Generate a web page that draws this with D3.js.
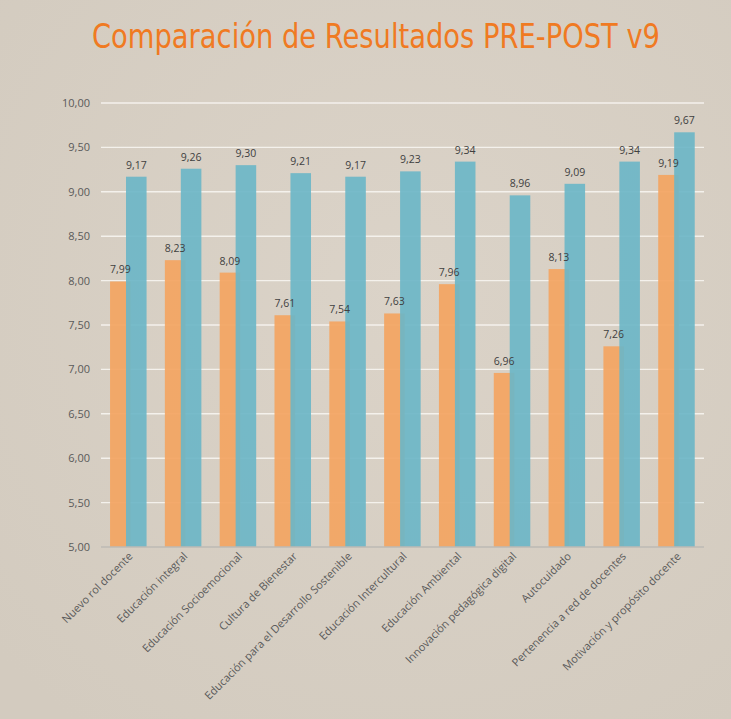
<!DOCTYPE html>
<html>
<head>
<meta charset="utf-8">
<script src="https://cdn.jsdelivr.net/npm/d3@7"></script>
<style>
  html, body { margin: 0; padding: 0; background: #d7cfc4; }
  svg { display: block; }
  .title { font-family: "Liberation Sans Narrow", "DejaVu Sans Condensed", sans-serif; fill: #f07a22; }
  .tick text, .val, .xlab { font-family: "Open Sans", sans-serif; }
</style>
</head>
<body>
<svg id="chart"></svg>
<script>
// chart data
var categories = ["Nuevo rol docente", "Educación integral", "Educación Socioemocional",
	"Cultura de Bienestar", "Educación para el Desarrollo Sostenible", "Educación Intercultural",
	"Educación Ambiental", "Innovación pedagógica digital", "Autocuidado",
	"Pertenencia a red de docentes", "Motivación y propósito docente"];
var pre = [7.99, 8.23, 8.09, 7.61, 7.54, 7.63, 7.96, 6.96, 8.13, 7.26, 9.19];
var post = [9.17, 9.26, 9.30, 9.21, 9.17, 9.23, 9.34, 8.96, 9.09, 9.34, 9.67];
var yTicks = [5, 5.5, 6, 6.5, 7, 7.5, 8, 8.5, 9, 9.5, 10];

var width = 731, height = 719;
var plotLeft = 101, plotRight = 704, plotTop = 103, plotBottom = 547;

var svg = d3.select("#chart")
	.attr("width", width)
	.attr("height", height);

// background with a soft texture feel
var defs = svg.append("defs");
var grad = defs.append("radialGradient").attr("id", "bg")
	.attr("cx", "55%").attr("cy", "40%").attr("r", "75%");
grad.append("stop").attr("offset", "0%").attr("stop-color", "#dbd3c8");
grad.append("stop").attr("offset", "100%").attr("stop-color", "#d3cbbf");
svg.append("rect").attr("width", width).attr("height", height).attr("fill", "url(#bg)");

svg.append("text")
	.attr("class", "title")
	.attr("x", 376)
	.attr("y", 48)
	.attr("text-anchor", "middle")
	.attr("font-size", 33)
	.attr("textLength", 568)
	.attr("lengthAdjust", "spacingAndGlyphs")
	.text("Comparación de Resultados PRE-POST v9");

var x = d3.scaleBand().domain(categories).range([plotLeft, plotRight]);
var y = d3.scaleLinear().domain([5, 10]).range([plotBottom, plotTop]);

var bw = x.bandwidth();
var barW = bw * 0.375;
function cx(d) { return x(d) + bw / 2; }

// gridlines
svg.append("g")
	.selectAll("line")
	.data(yTicks.slice(1))
	.enter().append("line")
	.attr("x1", plotLeft).attr("x2", plotRight)
	.attr("y1", function(d) { return y(d); })
	.attr("y2", function(d) { return y(d); })
	.attr("stroke", "#f4f1ec")
	.attr("stroke-width", 1.4);

// y axis labels
var yAxis = svg.append("g")
	.attr("transform", "translate(" + plotLeft + ",0)")
	.call(d3.axisLeft(y).tickValues(yTicks).tickSize(0).tickPadding(11)
		.tickFormat(function(d) { return d3.format(".2f")(d).replace(".", ","); }));
yAxis.select(".domain").remove();
yAxis.selectAll("text").attr("font-size", 11).attr("fill", "#5a5a5a");

// bars
svg.append("g").selectAll("rect")
	.data(categories)
	.enter().append("rect")
	.attr("x", function(d) { return cx(d) - bw * 0.335; })
	.attr("y", function(d, i) { return y(pre[i]); })
	.attr("width", barW)
	.attr("height", function(d, i) { return plotBottom - y(pre[i]); })
	.attr("fill", "#f3a562")
	.attr("opacity", 0.93);

svg.append("g").selectAll("rect")
	.data(categories)
	.enter().append("rect")
	.attr("x", function(d) { return cx(d) - bw * 0.044; })
	.attr("y", function(d, i) { return y(post[i]); })
	.attr("width", barW)
	.attr("height", function(d, i) { return plotBottom - y(post[i]); })
	.attr("fill", "#6db6c7")
	.attr("opacity", 0.92);

// axis line
svg.append("line")
	.attr("x1", plotLeft).attr("x2", plotRight)
	.attr("y1", plotBottom).attr("y2", plotBottom)
	.attr("stroke", "#bdbab5")
	.attr("stroke-width", 1.5);

// value labels
function fmt(v) { return d3.format(".2f")(v).replace(".", ","); }
svg.append("g").selectAll("text")
	.data(categories)
	.enter().append("text")
	.attr("class", "val")
	.attr("x", function(d) { return cx(d) - bw * 0.335 + barW / 2; })
	.attr("y", function(d, i) { return y(pre[i]) - 8; })
	.attr("text-anchor", "middle")
	.attr("font-size", 10.5)
	.attr("fill", "#404040")
	.text(function(d, i) { return fmt(pre[i]); });

svg.append("g").selectAll("text")
	.data(categories)
	.enter().append("text")
	.attr("class", "val")
	.attr("x", function(d) { return cx(d) - bw * 0.044 + barW / 2; })
	.attr("y", function(d, i) { return y(post[i]) - 8; })
	.attr("text-anchor", "middle")
	.attr("font-size", 10.5)
	.attr("fill", "#404040")
	.text(function(d, i) { return fmt(post[i]); });

// x labels rotated
svg.append("g").selectAll("text")
	.data(categories)
	.enter().append("text")
	.attr("class", "xlab")
	.attr("text-anchor", "end")
	.attr("font-size", 11)
	.attr("fill", "#5a5a5a")
	.attr("transform", function(d) { return "translate(" + (cx(d) + 5) + "," + (plotBottom + 10) + ") rotate(-45)"; })
	.text(function(d) { return d; });
</script>
</body>
</html>
